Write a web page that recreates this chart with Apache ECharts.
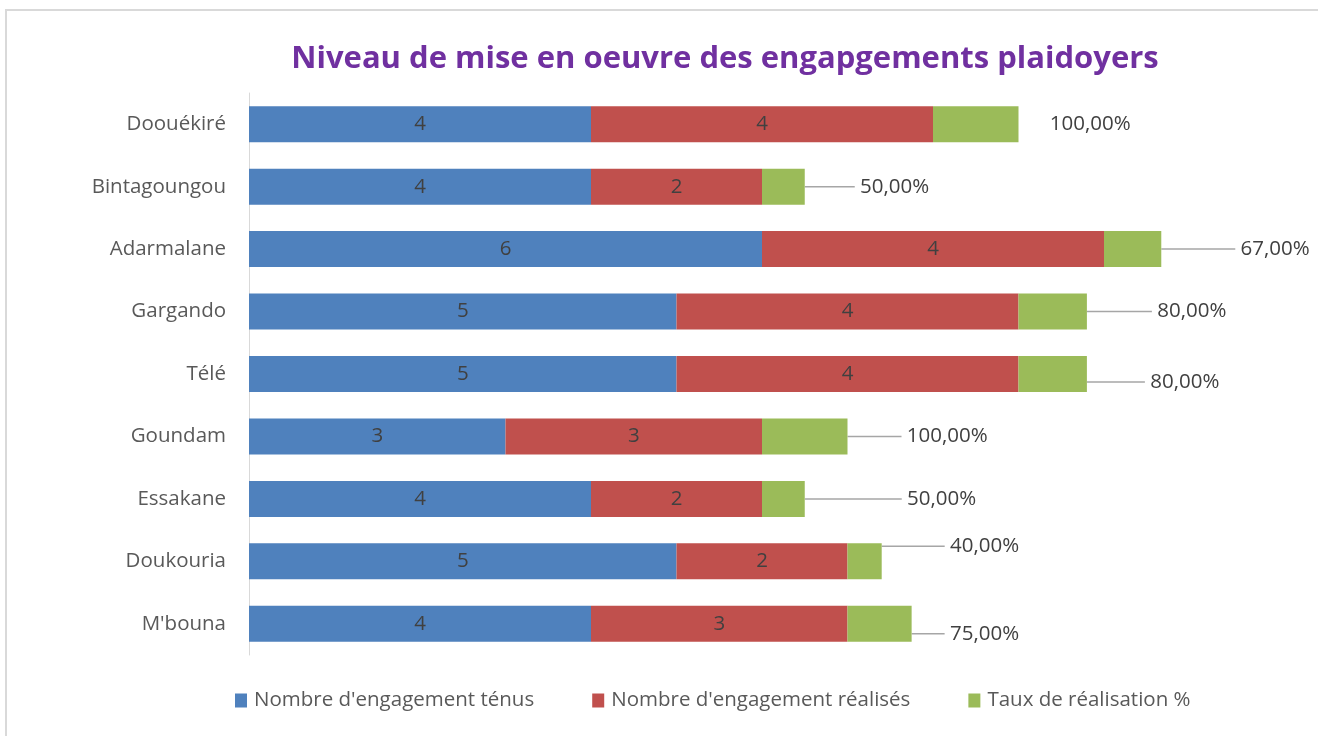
<!DOCTYPE html>
<html><head><meta charset="utf-8">
<script src="https://cdn.jsdelivr.net/npm/echarts@6/dist/echarts.min.js"></script>
<style>html,body{margin:0;padding:0;background:#fff}#c{width:1318px;height:736px}</style>
</head><body><div id="c"></div>
<script>
const categories = ["Doouékiré","Bintagoungou","Adarmalane","Gargando","Télé","Goundam","Essakane","Doukouria","M'bouna"];
const tenus = [4,4,6,5,5,3,4,5,4];
const realises = [4,2,4,4,4,3,2,2,3];
const taux = [1.00,0.50,0.67,0.80,0.80,1.00,0.50,0.40,0.75];
const seriesNames = ["Nombre d'engagement ténus","Nombre d'engagement réalisés","Taux de réalisation %"];

// label offsets (layout only)
const pctDx = [26,50,74,65,58,54,97,63,33];
const pctDy = [0,0,0,0,8,0,0,-15,10];

const chart = echarts.init(document.getElementById('c'));
const font = "'Open Sans', sans-serif";
const fs = 20.5;
const insideLabel = {show:true, position:'inside', color:'#404040', fontSize:fs, fontFamily:font};
chart.setOption({
  animation:false,
  backgroundColor:'#fff',
  title:{text:'Niveau de mise en oeuvre des engapgements plaidoyers', left:720, textAlign:'center', top:39,
    textStyle:{color:'#7030A0', fontSize:31, fontWeight:'bold', fontFamily:font}},
  legend:{bottom:20, left:230, itemWidth:12, itemHeight:14, itemGap:58, icon:'rect',
    textStyle:{color:'#595959', fontSize:fs, fontFamily:font, padding:[0,0,0,2]},
    data:seriesNames},
  grid:{left:249, top:93, width:85.5*12, height:562},
  xAxis:{type:'value', min:0, max:12, show:false, splitLine:{show:false}},
  yAxis:{type:'category', data:categories, inverse:true,
    axisLine:{show:true, lineStyle:{color:'#d9d9d9', width:1}}, axisTick:{show:false},
    axisLabel:{color:'#595959', fontSize:fs, fontFamily:font, margin:23}},
  series:[
    {name:seriesNames[0], type:'bar', stack:'s', data:tenus, barWidth:36, itemStyle:{color:'#4F81BD'}, label:insideLabel},
    {name:seriesNames[1], type:'bar', stack:'s', data:realises, itemStyle:{color:'#C0504D'}, label:insideLabel},
    {name:seriesNames[2], type:'bar', stack:'s',
      data:taux.map((v,i)=> i===0 ? {value:v, labelLine:{show:false}} : v),
      itemStyle:{color:'#9BBB59'},
      label:{show:true, position:'right', distance:0, color:'#404040', fontSize:fs, fontFamily:font,
        formatter:p=>'\u00a0'+(p.value*100).toFixed(2).replace('.',',')+'%'},
      labelLine:{show:true, lineStyle:{color:'#a6a6a6', width:1.5}},
      labelLayout:p=>({dx:pctDx[p.dataIndex], dy:pctDy[p.dataIndex]})}
  ],
  graphic:[{type:'rect', shape:{x:6, y:10, width:1330, height:740}, style:{fill:'none', stroke:'#d9d9d9', lineWidth:2}, silent:true}]
});
</script></body></html>
